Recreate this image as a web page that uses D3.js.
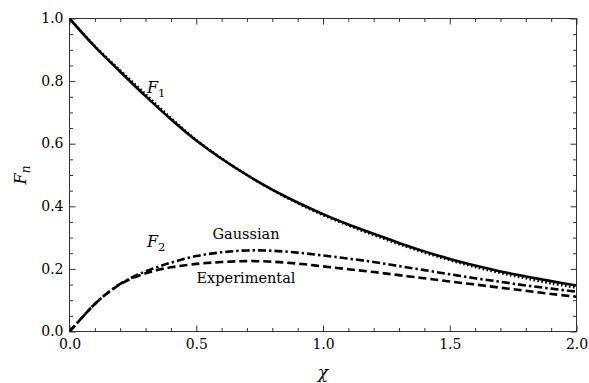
<!DOCTYPE html>
<html>
<head>
<meta charset="utf-8">
<title>F_n vs chi</title>
<style>
  body { margin: 0; background: #fff; }
  svg text { font-family: "DejaVu Serif", "Liberation Serif", serif; fill: #000; }
  .frame { fill: none; stroke: #333; stroke-width: 1; }
  .tick line { stroke: #333; }
  .curve { fill: none; stroke: #000; stroke-width: 2.6; }
</style>
</head>
<body>
<div id="chart"></div>
<script src="https://d3js.org/d3.v7.min.js"></script>
<script>
// chi values for the F1 curves
var chiF1 = [0, 0.1, 0.2, 0.3, 0.4, 0.5, 0.6, 0.7, 0.8, 0.9, 1.0,
             1.1, 1.2, 1.3, 1.4, 1.5, 1.6, 1.7, 1.8, 1.9, 2.0];
var f1Solid = [1.0, 0.91, 0.83, 0.752, 0.678, 0.61, 0.552, 0.5, 0.453, 0.412, 0.375,
               0.342, 0.312, 0.283, 0.256, 0.232, 0.211, 0.192, 0.176, 0.161, 0.147];
var f1Dotted = [1.0, 0.912, 0.834, 0.758, 0.682, 0.612, 0.553, 0.5, 0.452, 0.41, 0.372,
                0.339, 0.308, 0.279, 0.252, 0.228, 0.206, 0.187, 0.17, 0.154, 0.14];

// chi values for the F2 curves
var chiF2 = [0, 0.05, 0.1, 0.15, 0.2, 0.25, 0.3, 0.35, 0.4, 0.5, 0.6, 0.7, 0.8, 0.9, 1.0,
             1.1, 1.2, 1.3, 1.4, 1.5, 1.6, 1.7, 1.8, 1.9, 2.0];
var f2Gaussian = [0, 0.045, 0.088, 0.123, 0.152, 0.174, 0.192, 0.207, 0.22, 0.241, 0.253, 0.259, 0.258, 0.252, 0.243,
                  0.233, 0.222, 0.209, 0.196, 0.183, 0.17, 0.159, 0.147, 0.137, 0.127];
var f2Experimental = [0, 0.045, 0.088, 0.123, 0.151, 0.171, 0.186, 0.197, 0.205, 0.216, 0.222, 0.225, 0.223, 0.217, 0.208,
                      0.199, 0.19, 0.18, 0.17, 0.16, 0.15, 0.14, 0.13, 0.12, 0.111];

var xMajor = [0, 0.5, 1.0, 1.5, 2.0];
var yMajor = [0, 0.2, 0.4, 0.6, 0.8, 1.0];

var width = 589, height = 383;
var margin = {top: 18.5, right: 12.5, bottom: 51.5, left: 69.5};
var serif = '"DejaVu Serif", "Liberation Serif", serif';

var svg = d3.select("#chart").append("svg")
    .attr("width", width)
    .attr("height", height)
    .attr("font-family", serif);

var x = d3.scaleLinear().domain([0, 2]).range([margin.left, width - margin.right]);
var y = d3.scaleLinear().domain([0, 1]).range([height - margin.bottom, margin.top]);

var xMinor = d3.range(0, 2.0001, 0.1).filter(function(v) { return Math.abs(v * 2 - Math.round(v * 2)) > 1e-6; });
var yMinor = d3.range(0, 1.0001, 0.05).filter(function(v) { return Math.abs(v * 5 - Math.round(v * 5)) > 1e-6; });

var fmt = d3.format(".1f");
var majorLen = 6, minorLen = 3.5;

function drawAxis(axisFn, scale, major, minor, transform, showLabels) {
  var maj = axisFn(scale).tickValues(major).tickSizeInner(-majorLen).tickSizeOuter(0)
    .tickFormat(showLabels ? fmt : "");
  var min = axisFn(scale).tickValues(minor).tickSizeInner(-minorLen).tickSizeOuter(0).tickFormat("");
  [maj, min].forEach(function(ax) {
    var g = svg.append("g").attr("transform", transform).call(ax)
      .attr("font-family", serif).attr("font-size", 14);
    g.select(".domain").remove();
    g.selectAll(".tick text").each(function() {
      var t = d3.select(this);
      if (t.attr("dy") === "0.71em") t.attr("y", 8);
      if (t.attr("dy") === "0.32em") t.attr("x", -6).attr("dy", "0.3em");
    });
  });
}

// bottom & left with labels, top & right mirrored ticks
drawAxis(d3.axisBottom, x, xMajor, xMinor, "translate(0," + y(0) + ")", true);
drawAxis(d3.axisTop, x, xMajor, xMinor, "translate(0," + y(1) + ")", false);
drawAxis(d3.axisLeft, y, yMajor, yMinor, "translate(" + x(0) + ",0)", true);
drawAxis(d3.axisRight, y, yMajor, yMinor, "translate(" + x(2) + ",0)", false);

svg.append("rect").attr("class", "frame")
  .attr("x", x(0)).attr("y", y(1))
  .attr("width", x(2) - x(0)).attr("height", y(0) - y(1));

svg.append("clipPath").attr("id", "clip").append("rect")
  .attr("x", x(0)).attr("y", y(1))
  .attr("width", x(2) - x(0)).attr("height", y(0) - y(1));

function series(xs, ys) {
  return xs.map(function(d, i) { return [d, ys[i]]; });
}

var line = d3.line()
  .x(function(d) { return x(d[0]); })
  .y(function(d) { return y(d[1]); })
  .curve(d3.curveCatmullRom.alpha(0.5));

var curves = [
  {data: series(chiF1, f1Dotted), dash: "1.6,2.4"},
  {data: series(chiF1, f1Solid), dash: null},
  {data: series(chiF2, f2Gaussian), dash: "8,3,2.4,3"},
  {data: series(chiF2, f2Experimental), dash: "8,4"}
];

svg.append("g").attr("clip-path", "url(#clip)")
  .selectAll("path").data(curves).enter().append("path")
  .attr("class", "curve")
  .attr("stroke-dasharray", function(d) { return d.dash; })
  .attr("d", function(d) { return line(d.data); });

// annotations
function subLabel(px, py, main, sub, size) {
  var t = svg.append("text").attr("x", px).attr("y", py).attr("font-size", size);
  t.append("tspan").attr("font-style", "italic").text(main);
  t.append("tspan").attr("dy", 4).attr("font-size", size * 0.72).text(sub);
  return t;
}
subLabel(147, 93, "F", "1", 16);
subLabel(147, 247, "F", "2", 16);

svg.append("text").attr("x", 246).attr("y", 239).attr("text-anchor", "middle")
  .attr("font-size", 14.5).text("Gaussian");
svg.append("text").attr("x", 246).attr("y", 283).attr("text-anchor", "middle")
  .attr("font-size", 14.5).text("Experimental");

// axis titles
svg.append("text").attr("x", x(1)).attr("y", 378).attr("text-anchor", "middle")
  .attr("font-size", 17).attr("font-style", "italic").text("χ");

var yt = svg.append("text").attr("transform", "translate(26," + y(0.5) + ") rotate(-90)")
  .attr("text-anchor", "middle").attr("font-size", 16);
yt.append("tspan").attr("font-style", "italic").text("F");
yt.append("tspan").attr("dy", 4).attr("font-style", "italic").attr("font-size", 12).text("n");
</script>
</body>
</html>
